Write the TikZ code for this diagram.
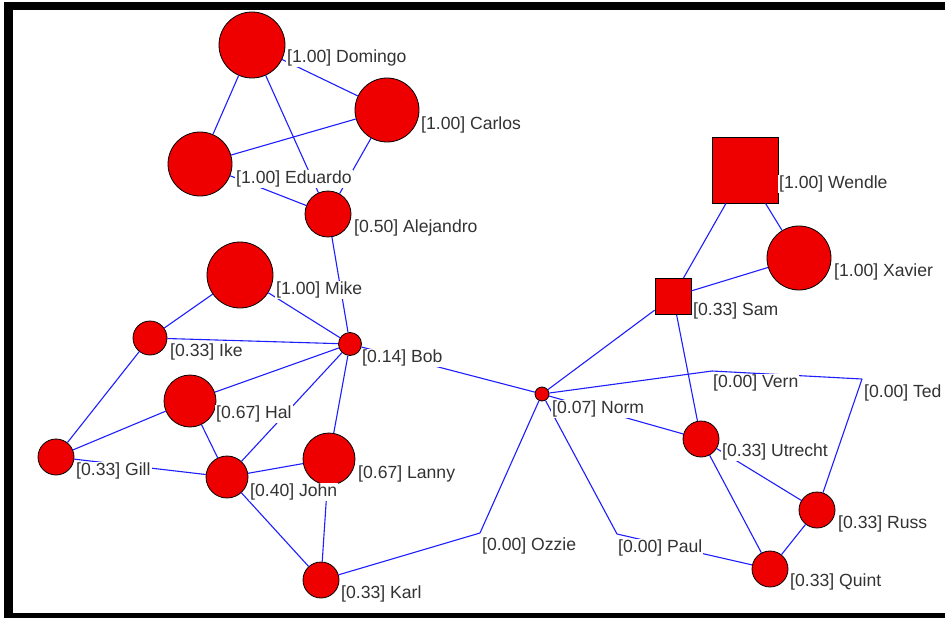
\documentclass[tikz,border=0pt]{standalone}
\usepackage{fontspec}
\setmainfont{Liberation Sans}
\usepackage{tikz}
\definecolor{actorred}{RGB}{238,0,0}
\definecolor{tieblue}{RGB}{30,30,255}
\tikzstyle{actor} = [circle, draw = black, fill = actorred, inner sep = 0pt, line width = 0.8pt]
\tikzstyle{boxactor} = [rectangle, draw = black, fill = actorred, inner sep = 0pt, line width = 0.8pt]
\tikzstyle{tie} = [draw = tieblue, line width = 1.1pt]
\tikzstyle{tag} = [anchor = west, fill = white, inner sep = 1pt, text = black!80, font = \fontsize{17.6}{17.6}\selectfont]

\begin{document}
\begin{tikzpicture}[x = 1pt, y = -1pt]

\useasboundingbox (0,0) rectangle (945,618);
\clip (0,0) rectangle (945,618);
\fill [white] (0,0) rectangle (945,618);
\fill [black] (4,2) rectangle (960,630);
\fill [white] (12.5,10) rectangle (960,613);

% actors
\node(Domingo)   [actor, minimum size = 66pt] at (252,45) {};
\node(Carlos)    [actor, minimum size = 64pt] at (387,110) {};
\node(Eduardo)   [actor, minimum size = 64pt] at (200,164) {};
\node(Alejandro) [actor, minimum size = 46pt] at (328,214) {};
\node(Mike)      [actor, minimum size = 66pt] at (240,275) {};
\node(Ike)       [actor, minimum size = 34pt] at (150,338) {};
\node(Bob)       [actor, minimum size = 23pt] at (350,344) {};
\node(Hal)       [actor, minimum size = 52pt] at (190,401) {};
\node(Gill)      [actor, minimum size = 36pt] at (56,457) {};
\node(John)      [actor, minimum size = 42pt] at (227,477) {};
\node(Lanny)     [actor, minimum size = 52pt] at (329,459) {};
\node(Karl)      [actor, minimum size = 36pt] at (321,580) {};
\node(Norm)      [actor, minimum size = 14pt] at (542,394) {};
\node(Utrecht)   [actor, minimum size = 36pt] at (701,439) {};
\node(Russ)      [actor, minimum size = 36pt] at (817,510) {};
\node(Quint)     [actor, minimum size = 36pt] at (770,569) {};
\node(Xavier)    [actor, minimum size = 64pt] at (799,258) {};
\node(Sam)       [boxactor, minimum size = 36pt] at (673,296.5) {};
\node(Wendle)    [boxactor, minimum size = 66pt] at (745,170) {};
\coordinate(Ozzie) at (480,533);
\coordinate(Paul)  at (617,534);
\coordinate(Vern)  at (712,371);
\coordinate(Ted)   at (862,379);

% ties
\draw [tie] (Domingo) -- (Eduardo);
\draw [tie] (Domingo) -- (Carlos);
\draw [tie] (Domingo) -- (Alejandro);
\draw [tie] (Eduardo) -- (Carlos);
\draw [tie] (Eduardo) -- (Alejandro);
\draw [tie] (Carlos) -- (Alejandro);
\draw [tie] (Alejandro) -- (Bob);
\draw [tie] (Mike) -- (Bob);
\draw [tie] (Mike) -- (Ike);
\draw [tie] (Ike) -- (Bob);
\draw [tie] (Ike) -- (Gill);
\draw [tie] (Hal) -- (Bob);
\draw [tie] (Hal) -- (Gill);
\draw [tie] (Hal) -- (John);
\draw [tie] (Gill) -- (John);
\draw [tie] (John) -- (Bob);
\draw [tie] (John) -- (Lanny);
\draw [tie] (John) -- (Karl);
\draw [tie] (Lanny) -- (Bob);
\draw [tie] (Lanny) -- (Karl);
\draw [tie] (Bob) -- (Norm);
\draw [tie] (Karl) -- (Ozzie);
\draw [tie] (Ozzie) -- (Norm);
\draw [tie] (Norm) -- (Paul);
\draw [tie] (Norm) -- (Sam);
\draw [tie] (Norm) -- (Vern);
\draw [tie] (Norm) -- (Utrecht);
\draw [tie] (Sam) -- (Wendle);
\draw [tie] (Sam) -- (Xavier);
\draw [tie] (Sam) -- (Utrecht);
\draw [tie] (Wendle) -- (Xavier);
\draw [tie] (Vern) -- (Ted);
\draw [tie] (Ted) -- (Russ);
\draw [tie] (Utrecht) -- (Russ);
\draw [tie] (Utrecht) -- (Quint);
\draw [tie] (Russ) -- (Quint);
\draw [tie] (Paul) -- (Quint);

% labels
\node(DomingoTag)   [tag] at (286,58)  {[1.00] Domingo};
\node(CarlosTag)    [tag] at (420,125) {[1.00] Carlos};
\node(EduardoTag)   [tag] at (235,179) {[1.00] Eduardo};
\node(AlejandroTag) [tag] at (353,228) {[0.50] Alejandro};
\node(MikeTag)      [tag] at (275,290) {[1.00] Mike};
\node(IkeTag)       [tag] at (169,352) {[0.33] Ike};
\node(BobTag)       [tag] at (361,358) {[0.14] Bob};
\node(HalTag)       [tag] at (215,414) {[0.67] Hal};
\node(GillTag)      [tag] at (75,471)  {[0.33] Gill};
\node(JohnTag)      [tag] at (249,492) {[0.40] John};
\node(LannyTag)     [tag] at (357,474) {[0.67] Lanny};
\node(KarlTag)      [tag] at (340,594) {[0.33] Karl};
\node(NormTag)      [tag] at (551,409) {[0.07] Norm};
\node(OzzieTag)     [tag] at (481,546) {[0.00] Ozzie};
\node(PaulTag)      [tag] at (617,548) {[0.00] Paul};
\node(VernTag)      [tag] at (712,383) {[0.00] Vern};
\node(TedTag)       [tag] at (863,393) {[0.00] Ted};
\node(UtrechtTag)   [tag] at (721,452) {[0.33] Utrecht};
\node(RussTag)      [tag] at (837,524) {[0.33] Russ};
\node(QuintTag)     [tag] at (789,582) {[0.33] Quint};
\node(SamTag)       [tag] at (692,311) {[0.33] Sam};
\node(WendleTag)    [tag] at (778,184) {[1.00] Wendle};
\node(XavierTag)    [tag] at (833,272) {[1.00] Xavier};

\end{tikzpicture}
\end{document}
